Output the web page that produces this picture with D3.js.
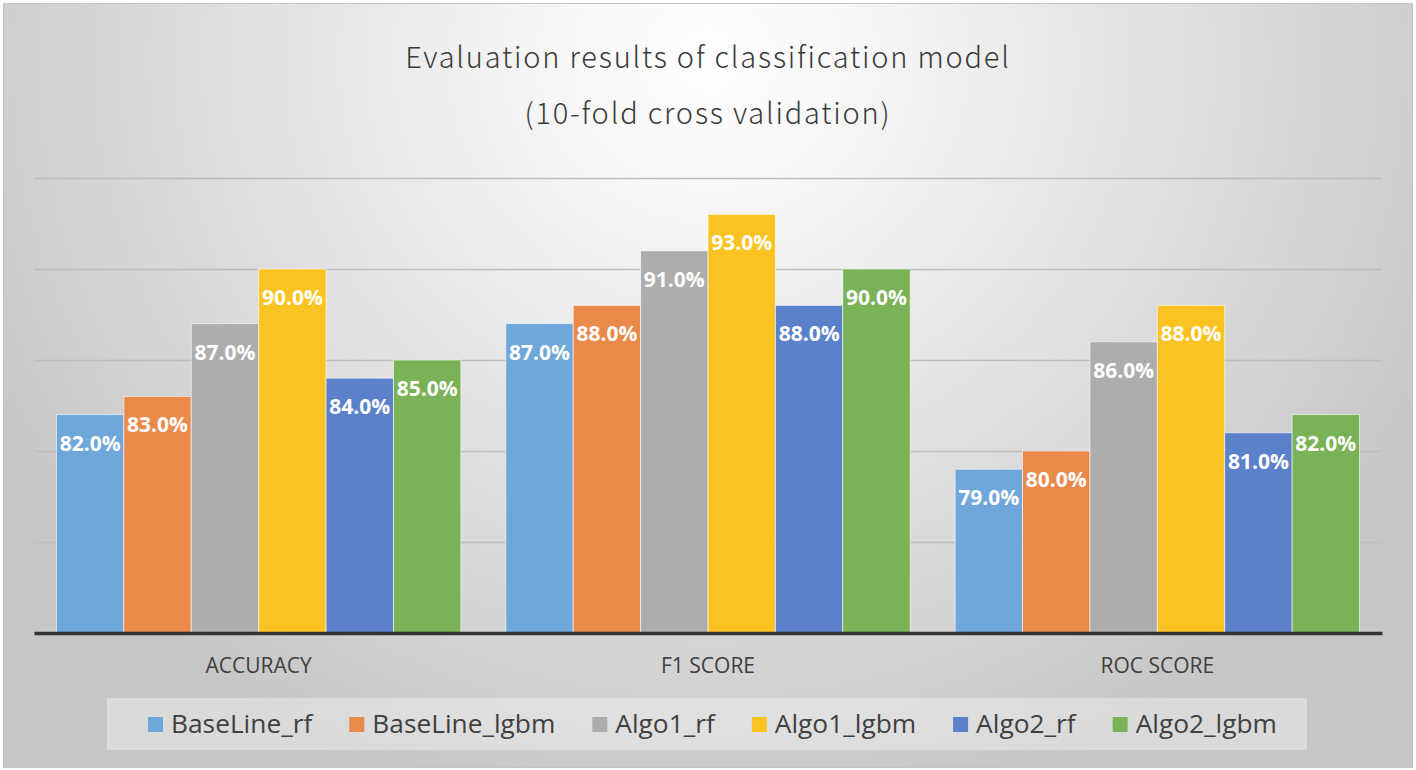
<!DOCTYPE html>
<html>
<head>
<meta charset="utf-8">
<script src="https://cdn.jsdelivr.net/npm/d3@7"></script>
<style>
  html, body { margin: 0; padding: 0; background: #ffffff; }
  svg { display: block; }
</style>
</head>
<body>
<svg id="chart" width="1416" height="770"></svg>
<script>
// ---- Data ----
const categories = ["ACCURACY", "F1 SCORE", "ROC SCORE"];
const seriesNames = ["BaseLine_rf", "BaseLine_lgbm", "Algo1_rf", "Algo1_lgbm", "Algo2_rf", "Algo2_lgbm"];
const baselineRf   = [82.0, 87.0, 79.0];
const baselineLgbm = [83.0, 88.0, 80.0];
const algo1Rf      = [87.0, 91.0, 86.0];
const algo1Lgbm    = [90.0, 93.0, 88.0];
const algo2Rf      = [84.0, 88.0, 81.0];
const algo2Lgbm    = [85.0, 90.0, 82.0];
const yTicks = [70, 75, 80, 85, 90, 95];
const titleLines = ["Evaluation results of classification model", "(10-fold cross validation)"];

const seriesValues = [baselineRf, baselineLgbm, algo1Rf, algo1Lgbm, algo2Rf, algo2Lgbm];
const colors = ["#6fa7da", "#e98a4b", "#adadad", "#fbc321", "#5a81c9", "#79b257"];

const svg = d3.select("#chart");
const W = 1416, H = 770;

// ---- Background ----
const defs = svg.append("defs");
const grad = defs.append("radialGradient")
  .attr("id", "bg")
  .attr("gradientUnits", "userSpaceOnUse")
  .attr("cx", 708).attr("cy", 60).attr("r", 820)
  .attr("gradientTransform", "translate(708,60) scale(1,0.95) translate(-708,-60)");
grad.append("stop").attr("offset", 0).attr("stop-color", "#ffffff");
grad.append("stop").attr("offset", 0.25).attr("stop-color", "#f3f3f3");
grad.append("stop").attr("offset", 0.6).attr("stop-color", "#dedede");
grad.append("stop").attr("offset", 1).attr("stop-color", "#c6c6c6");

svg.append("rect").attr("x", 0).attr("y", 0).attr("width", W).attr("height", H).attr("fill", "#ffffff");
svg.append("rect")
  .attr("x", 3.5).attr("y", 3.5).attr("width", 1409).attr("height", 764)
  .attr("fill", "url(#bg)").attr("stroke", "#c4c4c4").attr("stroke-width", 1);

// ---- Scales ----
const plotLeft = 34, plotRight = 1382, plotTop = 178, plotBottom = 633;
const x0 = d3.scaleBand().domain(categories).range([plotLeft, plotRight]).paddingInner(0).paddingOuter(0);
const x1 = d3.scaleBand().domain(seriesNames).range([0, x0.bandwidth()]).paddingInner(0).paddingOuter(1/3);
const y = d3.scaleLinear().domain([70, 95]).range([plotBottom, plotTop]);

// ---- Gridlines ----
const yAxis = d3.axisLeft(y).tickValues(yTicks.slice(1)).tickSize(-(plotRight - plotLeft)).tickFormat("");
const gGrid = svg.append("g").attr("transform", `translate(${plotLeft},0)`).call(yAxis);
gGrid.select(".domain").remove();
gGrid.selectAll(".tick line").attr("stroke", "#bdbdbd").attr("stroke-width", 1.5);

// ---- Title ----
svg.append("g").selectAll("text").data(titleLines).join("text")
  .attr("x", 708)
  .attr("y", (d, i) => 68 + i * 56)
  .attr("text-anchor", "middle")
  .attr("font-family", "'Noto Sans CJK KR', 'Noto Sans', sans-serif")
  .attr("font-weight", 300)
  .attr("font-size", 29)
  .attr("letter-spacing", 1.8)
  .attr("fill", "#3a3a3a")
  .text(d => d);

// ---- Bars ----
const flat = [];
categories.forEach((c, ci) => {
  seriesNames.forEach((s, si) => {
    flat.push({ cat: c, series: s, si: si, value: seriesValues[si][ci] });
  });
});

const gBars = svg.append("g");
gBars.selectAll("rect").data(flat).join("rect")
  .attr("x", d => x0(d.cat) + x1(d.series))
  .attr("y", d => y(d.value))
  .attr("width", x1.bandwidth())
  .attr("height", d => plotBottom - y(d.value))
  .attr("fill", d => colors[d.si])
  .attr("stroke", "rgba(255,255,255,0.6)")
  .attr("stroke-width", 1);

gBars.selectAll("text").data(flat).join("text")
  .attr("x", d => x0(d.cat) + x1(d.series) + x1.bandwidth() / 2)
  .attr("y", d => y(d.value) + 36)
  .attr("text-anchor", "middle")
  .attr("font-family", "'Open Sans', sans-serif")
  .attr("font-weight", 700)
  .attr("font-size", 21)
  .attr("fill", "#ffffff")
  .text(d => d.value.toFixed(1) + "%");

// ---- X axis ----
const xAxis = d3.axisBottom(x0).tickSize(0).tickPadding(0);
const gX = svg.append("g").attr("transform", `translate(0,${plotBottom})`).call(xAxis);
gX.select(".domain").attr("stroke", "#333333").attr("stroke-width", 3.5);
gX.selectAll(".tick text")
  .attr("dy", 0)
  .attr("y", 40)
  .attr("font-family", "'Open Sans', sans-serif")
  .attr("font-size", 21)
  .attr("fill", "#404040");

// ---- Legend ----
svg.append("rect")
  .attr("x", 107).attr("y", 698).attr("width", 1200).attr("height", 52)
  .attr("fill", "#ffffff").attr("fill-opacity", 0.35);

const gLeg = svg.append("g");
let lx = 148;
seriesNames.forEach((s, i) => {
  gLeg.append("rect")
    .attr("x", lx).attr("y", 717).attr("width", 15).attr("height", 15)
    .attr("fill", colors[i]);
  const t = gLeg.append("text")
    .attr("x", lx + 23).attr("y", 733)
    .attr("font-family", "'Open Sans', sans-serif")
    .attr("font-size", 26.3)
    .attr("fill", "#404040")
    .text(s);
  const w = t.node().getComputedTextLength();
  lx += 23 + w + 37;
});
</script>
</body>
</html>
